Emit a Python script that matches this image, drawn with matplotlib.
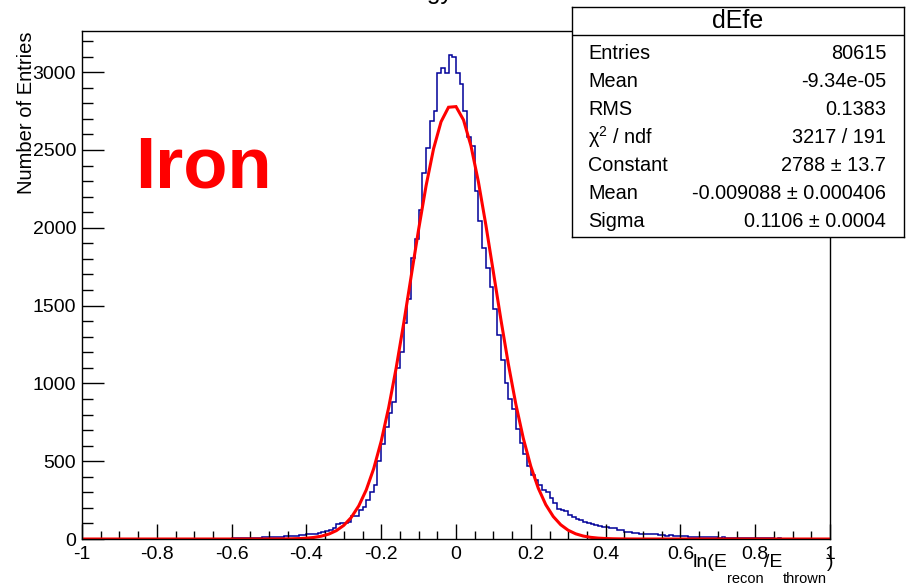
import numpy as np
import matplotlib
matplotlib.use("Agg")
import matplotlib.pyplot as plt
from matplotlib.ticker import MultipleLocator

plt.rcParams["font.family"] = ["Liberation Sans", "DejaVu Sans"]
plt.rcParams["mathtext.fontset"] = "custom"
plt.rcParams["mathtext.rm"] = "Liberation Sans"
plt.rcParams["mathtext.it"] = "Liberation Sans:italic"
plt.rcParams["mathtext.bf"] = "Liberation Sans:bold"
plt.rcParams["mathtext.default"] = "regular"

# ---- histogram dEfe: 200 bins on [-1, 1] ----
x_lo, x_hi, n_bins = -1.0, 1.0, 200
counts = [
    # -1.00 .. -0.81
    0, 0, 0, 0, 0, 0, 0, 0, 0, 0, 0, 0, 0, 0, 0, 0, 0, 0, 0, 0,
    # -0.80 .. -0.61
    0, 1, 0, 0, 1, 0, 1, 1, 0, 2, 1, 1, 2, 1, 0, 2, 2, 1, 3, 2,
    # -0.60 .. -0.41
    4, 5, 4, 6, 7, 6, 8, 9, 11, 10, 12, 14, 13, 16, 18, 17, 21, 22, 24, 27,
    # -0.40 .. -0.21
    30, 33, 35, 40, 44, 50, 58, 69, 96, 101, 106, 111, 146, 150, 186, 208,
    250, 304, 347, 500,
    # -0.20 .. -0.01
    610, 720, 808, 878, 1101, 1203, 1386, 1540, 1807, 1925, 2113, 2349,
    2510, 2687, 2751, 2992, 3024, 2992, 3109, 3096,
    # 0.00 .. 0.19
    2996, 2921, 2751, 2585, 2525, 2238, 2045, 1867, 1743, 1617, 1476, 1309,
    1150, 1000, 897, 833, 705, 620, 545, 470,
    # 0.20 .. 0.39
    411, 379, 347, 315, 300, 261, 229, 190, 186, 183, 154, 143, 128, 124,
    111, 103, 99, 90, 81, 79,
    # 0.40 .. 0.59
    77, 70, 68, 59, 57, 47, 42, 41, 40, 34, 32, 31, 29, 30, 27, 28, 22, 24,
    20, 21,
    # 0.60 .. 0.79
    17, 19, 16, 15, 14, 13, 12, 13, 11, 10, 9, 10, 8, 9, 7, 8, 6, 7, 6, 5,
    # 0.80 .. 0.99
    6, 5, 4, 5, 4, 3, 4, 3, 3, 2, 3, 2, 2, 1, 2, 1, 1, 0, 1, 0,
]

# ---- Gaussian fit result ----
fit_constant = 2788.0
fit_mean = -0.009088
fit_sigma = 0.1106

stat_names = ["Entries", "Mean", "RMS", r"$\chi^{2}$ / ndf", "Constant",
              "Mean", "Sigma"]
stat_values = ["80615", "-9.34e-05", "0.1383", "3217 / 191",
               "2788 \u00b1 13.7", "-0.009088 \u00b1 0.000406",
               "0.1106 \u00b1 0.0004"]

title_text = "Energy Resolution"
# x-axis title pieces: (text, size in pt, vertical shift in px)
x_label_parts = [("ln(E", 14, 0), ("recon", 10.5, -16), ("/E", 14, 0),
                 ("thrown", 10.5, -16), (")", 14, 0)]
y_label = "Number of Entries"
tag_text = "Iron"

W, H = 913, 587
fig = plt.figure(figsize=(W / 100, H / 100), dpi=100)
fig.patch.set_facecolor("white")

ax = fig.add_axes([82 / W, 1 - 539 / H, 748 / W, 508 / H])
edges = np.linspace(x_lo, x_hi, n_bins + 1)
ax.stairs(counts, edges, color="#000099", lw=1.1, baseline=0)

xf = np.linspace(x_lo, x_hi, 101)
yf = fit_constant * np.exp(-0.5 * ((xf - fit_mean) / fit_sigma) ** 2)
ax.plot(xf, yf, color="#ff0000", lw=2.2, solid_joinstyle="miter")

ax.set_xlim(x_lo, x_hi)
ax.set_ylim(0, 1.05 * max(counts))

ax.xaxis.set_major_locator(MultipleLocator(0.2))
ax.xaxis.set_minor_locator(MultipleLocator(0.05))
ax.yaxis.set_major_locator(MultipleLocator(500))
ax.yaxis.set_minor_locator(MultipleLocator(100))
ax.xaxis.set_major_formatter(
    plt.FuncFormatter(lambda v, p: f"{round(v, 6) + 0.0:g}"))

ax.tick_params(axis="x", which="major", direction="in", length=10.9,
               width=1.0, pad=5.0, labelsize=14, top=False)
ax.tick_params(axis="x", which="minor", direction="in", length=5.5,
               width=1.0, top=False)
ax.tick_params(axis="y", which="major", direction="in", length=16.1,
               width=1.0, pad=4.3, labelsize=14, right=False)
ax.tick_params(axis="y", which="minor", direction="in", length=8.1,
               width=1.0, right=False)
for s in ax.spines.values():
    s.set_linewidth(1.0)
    s.set_color("black")

# axis titles in pad coordinates
renderer = fig.canvas.get_renderer()
parts = []
for txt, size, dy in x_label_parts:
    t = fig.text(0, 0, txt, fontsize=size, ha="left", va="baseline")
    w = t.get_window_extent(renderer).width
    parts.append((t, w, dy))
x_cur = 833 - sum(w for _, w, _ in parts)
for t, w, dy in parts:
    t.set_position((x_cur / W, 1 - (567 - dy) / H))
    x_cur += w

fig.text(27 / W, 1 - 31 / H, y_label, rotation=90, ha="center", va="top",
         fontsize=14.5)
# pad title: sits almost entirely above the canvas edge
fig.text(375 / W, 1 + 0.5 / H, title_text, ha="left", va="baseline",
         fontsize=17.7)
fig.text(135 / W, 1 - 188 / H, tag_text, ha="left", va="baseline",
         fontsize=52, fontweight="bold", color="#ff0000")

# statistics box
bx0, bx1, by0, by1 = 572, 904, 7, 237
box = fig.add_axes([bx0 / W, 1 - by1 / H, (bx1 - bx0) / W, (by1 - by0) / H])
box.set_xlim(0, 1)
box.set_ylim(0, 1)
box.set_xticks([])
box.set_yticks([])
box.set_facecolor("white")
box.set_zorder(5)
for s in box.spines.values():
    s.set_linewidth(1.0)
    s.set_color("black")

def fy(py):
    return (by1 - py) / (by1 - by0)

box.axhline(fy(35), color="black", lw=1.0)
box.text(0.5, fy(21.5), "dEfe", ha="center", va="center", fontsize=18)
xl = (588 - bx0) / (bx1 - bx0)
xr = (886 - bx0) / (bx1 - bx0)
for k, (name, val) in enumerate(zip(stat_names, stat_values)):
    yy = fy(53.3 + 28.05 * k)
    box.text(xl, yy, name, ha="left", va="center", fontsize=14.3)
    box.text(xr, yy, val, ha="right", va="center", fontsize=14.3)

fig.savefig("out.png", dpi=100)
